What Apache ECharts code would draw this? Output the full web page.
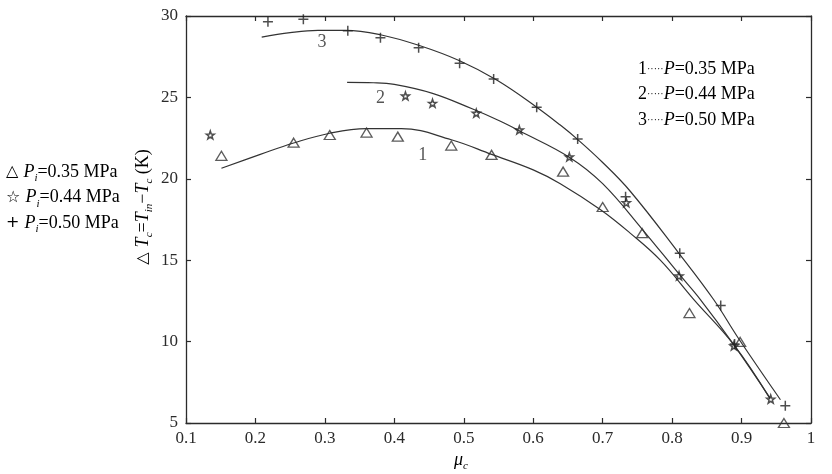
<!DOCTYPE html>
<html><head><meta charset="utf-8">
<script src="https://cdn.jsdelivr.net/npm/echarts/dist/echarts.min.js"></script>
<style>html,body{margin:0;padding:0;background:#fff}#c{width:832px;height:474px}</style>
</head><body><div id="c"></div>
<script>
// ---- data ----
const xTickValues = [0.1,0.2,0.3,0.4,0.5,0.6,0.7,0.8,0.9,1.0];
const yTickValues = [5,10,15,20,25,30];
const pressures = ['0.35','0.44','0.50'];

// measured points (mu_c, dT_c)
const pts035 = [[0.151,21.41],[0.255,22.22],[0.307,22.69],[0.360,22.84],[0.405,22.59],[0.482,22.04],[0.540,21.47],[0.643,20.44],[0.700,18.27],[0.757,16.66],[0.825,11.75],[0.898,9.98],[0.961,5.0]];
const pts044 = [[0.135,22.69],[0.416,25.09],[0.455,24.64],[0.518,24.03],[0.580,23.0],[0.652,21.34],[0.734,18.54],[0.810,14.04],[0.889,9.74],[0.942,6.47]];
const pts050 = [[0.218,29.65],[0.269,29.8],[0.333,29.1],[0.380,28.67],[0.435,28.05],[0.494,27.1],[0.543,26.13],[0.605,24.4],[0.664,22.45],[0.733,18.9],[0.811,15.43],[0.870,12.22],[0.890,9.85],[0.963,6.06]];

// fitted curves
const curve1 = [[0.151,20.65],[0.207,21.5],[0.255,22.2],[0.307,22.8],[0.36,23.08],[0.41,23.08],[0.482,22.4],[0.54,21.5],[0.6,20.55],[0.639,19.7],[0.697,18.1],[0.74,16.65],[0.783,15.0],[0.831,12.6],[0.889,9.8],[0.941,6.5]];
const curve2 = [[0.332,25.92],[0.37,25.9],[0.40,25.8],[0.455,25.25],[0.512,24.3],[0.552,23.55],[0.58,22.95],[0.653,21.3],[0.70,19.7],[0.757,16.9],[0.809,14.2],[0.841,12.57],[0.889,9.8],[0.941,6.53]];
const curve3 = [[0.209,28.7],[0.25,28.98],[0.29,29.12],[0.33,29.12],[0.38,28.85],[0.435,28.2],[0.494,27.25],[0.548,26.05],[0.605,24.4],[0.639,23.3],[0.663,22.45],[0.70,21.0],[0.74,19.22],[0.809,15.47],[0.86,12.57],[0.894,10.3],[0.956,6.43]];

const curveLabels = ['1','2','3'];
const curveLabelAnchors = [[0.441,21.47],[0.380,24.95],[0.296,28.36]];

// ---- chart ----
const SERIF = '"Liberation Serif","Times New Roman",serif';
const SYM = '"DejaVu Sans",sans-serif';
const INK = '#2b2b2b';
const chart = echarts.init(document.getElementById('c'), null, {renderer:'canvas'});

const xMin = xTickValues[0], xMax = xTickValues[xTickValues.length-1];
const xInt = +(xTickValues[1]-xTickValues[0]).toFixed(6);
const yMin = yTickValues[0], yMax = yTickValues[yTickValues.length-1];
const yInt = yTickValues[1]-yTickValues[0];

const axisCommon = {
  axisLine:{show:true, onZero:false, lineStyle:{color:INK, width:1.3}},
  axisTick:{show:true, inside:true, length:5, lineStyle:{color:INK, width:1.2}},
  splitLine:{show:false}
};

const triPath = 'path://M5,0 L10,8.6 L0,8.6 Z';
const starPath = 'path://M5,0 L6.2,3.6 L10,3.7 L7,6 L8.1,9.6 L5,7.5 L1.9,9.6 L3,6 L0,3.7 L3.8,3.6 Z';
const plusPath = 'path://M0,5 L10,5 M5,0 L5,10';

const rich = {
  n:{fontFamily:SERIF, fontSize:18, color:INK, lineHeight:24, verticalAlign:'middle'},
  i:{fontFamily:SERIF, fontSize:18, fontStyle:'italic', color:INK, lineHeight:24, verticalAlign:'middle'},
  s:{fontFamily:SERIF, fontSize:11, fontStyle:'italic', color:INK, lineHeight:11, verticalAlign:'bottom'},
  g:{fontFamily:SYM, fontSize:16, color:INK, lineHeight:24, verticalAlign:'middle'},
  d:{fontFamily:SERIF, fontSize:10, color:'#555', lineHeight:24, verticalAlign:'middle'}
};

const legendRight = pressures.map((p,k)=>({
  type:'text', left:638, top:60 + k*25.5,
  style:{text:'{n|'+curveLabels[k]+'}{d|·····}{i|P}{n|='+p+' MPa}', rich:rich}
}));
const legendSyms = ['△','☆','+'];
const legendLeft = pressures.map((p,k)=>({
  type:'text', left:6, top:163 + k*25.5,
  style:{text:'{g|'+legendSyms[k]+' }{i|P}{s|i}{n|='+p+' MPa}', rich:rich}
}));

const lineStyle = {color:'#333', width:1.2};

chart.setOption({
  animation:false,
  backgroundColor:'#fff',
  grid:{left:186, right:21, top:16, bottom:51, containLabel:false},
  xAxis:[
    Object.assign({type:'value', min:xMin, max:xMax, interval:xInt, position:'bottom',
      axisLabel:{color:INK, fontFamily:SERIF, fontSize:17, margin:7,
        formatter:v=>Math.abs(v-1)<1e-9?'1':v.toFixed(1)}}, axisCommon),
    Object.assign({type:'value', min:xMin, max:xMax, interval:xInt, position:'top',
      axisLabel:{show:false}}, axisCommon)
  ],
  yAxis:[
    Object.assign({type:'value', min:yMin, max:yMax, interval:yInt, position:'left',
      axisLabel:{color:INK, fontFamily:SERIF, fontSize:17, margin:8}}, axisCommon),
    Object.assign({type:'value', min:yMin, max:yMax, interval:yInt, position:'right',
      axisLabel:{show:false}}, axisCommon)
  ],
  series:[
    {type:'line', data:curve1, smooth:0.4, showSymbol:false, symbol:'none', lineStyle:lineStyle, z:2},
    {type:'line', data:curve2, smooth:0.4, showSymbol:false, symbol:'none', lineStyle:lineStyle, z:2},
    {type:'line', data:curve3, smooth:0.4, showSymbol:false, symbol:'none', lineStyle:lineStyle, z:2},
    {type:'scatter', data:pts035, symbol:triPath, symbolSize:[11,9], clip:false,
      itemStyle:{color:'rgba(255,255,255,0)', borderColor:'#333', borderWidth:1.3}, z:3},
    {type:'scatter', data:pts044, symbol:starPath, symbolSize:[8,8], clip:false,
      itemStyle:{color:'rgba(255,255,255,0)', borderColor:'#222', borderWidth:1.5}, z:3},
    {type:'scatter', data:pts050, symbol:plusPath, symbolSize:[10,10], clip:false,
      itemStyle:{color:'rgba(255,255,255,0)', borderColor:'#222', borderWidth:1.5}, z:3},
    {type:'scatter', data:curveLabelAnchors.map((c,k)=>({value:c, name:curveLabels[k]})), symbolSize:0, silent:true,
      label:{show:true, position:'inside', formatter:'{b}', fontFamily:SERIF, fontSize:18, color:INK}, z:4}
  ],
  graphic:[
    ...legendRight,
    ...legendLeft,
    {type:'text', x:143, y:207, rotation:Math.PI/2,
      style:{text:'{g|△ }{i|T}{s|c}{n|=}{i|T}{s|in}{n|−}{i|T}{s|c}{n| (K)}', rich:rich, align:'center', verticalAlign:'middle'}},
    {type:'text', x:461, y:460,
      style:{text:'{i|μ}{s|c}', rich:rich, align:'center', verticalAlign:'middle'}}
  ]
});
</script>
</body></html>
